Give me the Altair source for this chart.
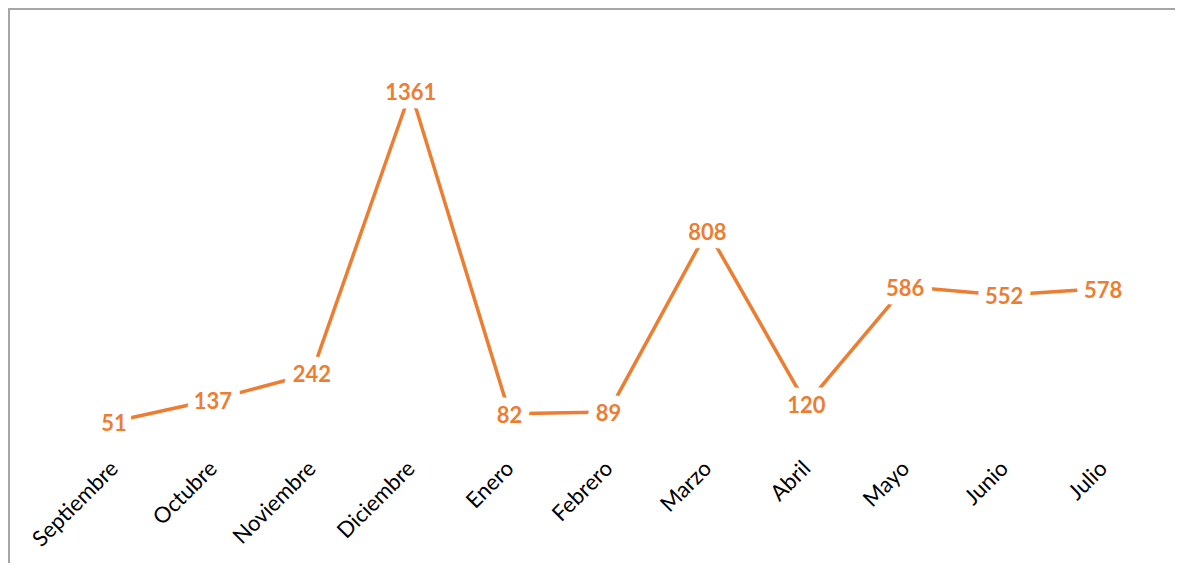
import altair as alt
import pandas as pd

months = ["Septiembre", "Octubre", "Noviembre", "Diciembre", "Enero", "Febrero",
          "Marzo", "Abril", "Mayo", "Junio", "Julio"]
values = [51, 137, 242, 1361, 82, 89, 808, 120, 586, 552, 578]

df = pd.DataFrame({"mes": months, "valor": values})

L, T, W, H = 56.5, 22.7, 1088, 403.7
R = 1167 - L - W
B = 555 - T - H

ORANGE = "#ED7D31"

x = alt.X("mes:N", sort=months, title=None,
          scale=alt.Scale(type="point", padding=0.5),
          axis=alt.Axis(labelAngle=-45, labelFont="Lato", labelFontSize=22,
                        labelColor="#000000", domain=False, ticks=False,
                        grid=False, labelPadding=23, labelOffset=-7))
y = alt.Y("valor:Q", title=None, scale=alt.Scale(domain=[0, 1600]), axis=None)

base = alt.Chart(df).encode(x=x, y=y)

line = base.mark_line(color=ORANGE, strokeWidth=3.5)
halo = base.mark_text(font="Lato", fontSize=22, fontWeight="bold", fill="white",
                      stroke="white", strokeWidth=17, strokeJoin="round", dy=2
                      ).encode(text="valor:Q")
labels = base.mark_text(font="Lato", fontSize=22, fontWeight="bold", color=ORANGE, dy=2
                        ).encode(text="valor:Q")

frame_df = pd.DataFrame({"k": [0]})
top_border = alt.Chart(frame_df).mark_rule(color="#A6A6A6", strokeWidth=2).encode(
    x=alt.value(-L), x2=alt.value(W + R), y=alt.value(-T + 1))
left_border = alt.Chart(frame_df).mark_rule(color="#A6A6A6", strokeWidth=2).encode(
    x=alt.value(-L + 1), y=alt.value(-T), y2=alt.value(H + B))

chart = alt.layer(line, halo, labels, top_border, left_border).properties(
    width=W, height=H,
    autosize=alt.AutoSizeParams(type="none"),
    padding={"left": L, "top": T, "right": R, "bottom": B},
).configure(background="white").configure_view(stroke=None)

chart.save("out.html", embed_options={"renderer": "svg", "actions": False})
